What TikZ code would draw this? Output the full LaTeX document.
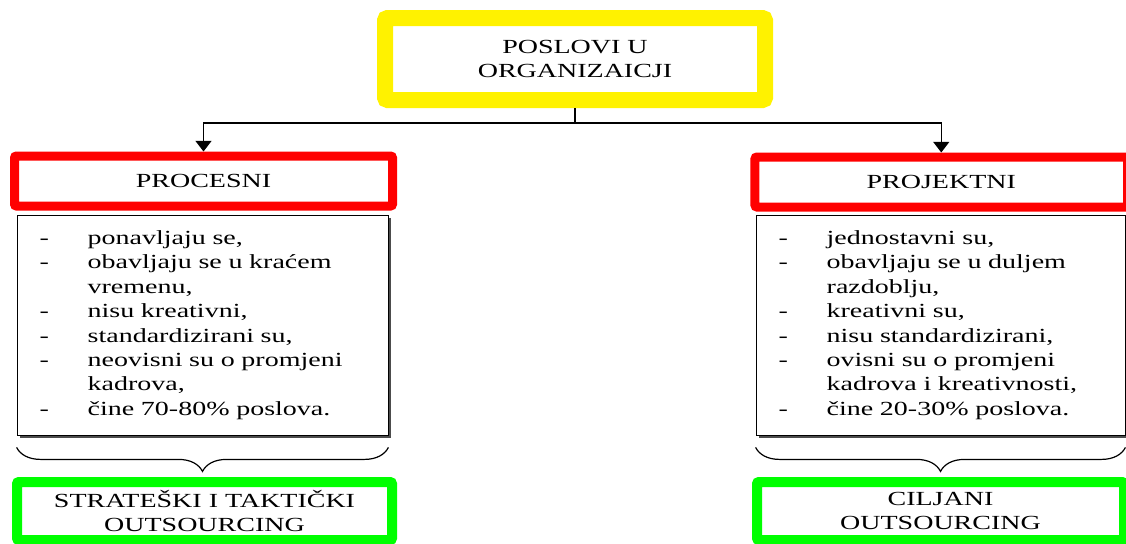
\documentclass[tikz,border=0pt]{standalone}
\usepackage{fontspec}
\setmainfont[FakeStretch=1.4]{Liberation Serif}
\usetikzlibrary{arrows.meta,shadows,decorations.pathreplacing}

\begin{document}
\begin{tikzpicture}[x=0.75pt,y=0.75pt,yscale=-1,xscale=1,
  font=\fontsize{15}{18.3}\selectfont,
  glavni/.style={draw=yellow,line width=12pt,rounded corners=2pt,fill=white,
    minimum width=285pt,minimum height=61.5pt,align=center},
  vrsta/.style={draw=red,line width=6.75pt,rounded corners=1.5pt,fill=white,
    minimum height=37.5pt},
  lista/.style={draw=black,line width=0.6pt,fill=white,align=left,
    inner xsep=17pt,minimum height=165pt,
    drop shadow={shadow xshift=2.5pt,shadow yshift=-2.5pt,fill=black!70,opacity=1}},
  ishod/.style={draw=green,line width=7.5pt,rounded corners=1.5pt,fill=white,
    minimum height=43.5pt,align=center},
  veza/.style={line width=1pt,-{Triangle[length=8pt,width=12pt]}},
  zagrada/.style={line width=0.9pt,decorate,
    decoration={brace,mirror,amplitude=18pt}}]
\useasboundingbox (0,0) rectangle (1126,543);

% Naslov
\node[glavni] (poslovi) at (575,59) {POSLOVI U\\ORGANIZAICJI};

% Vrste poslova
\node[vrsta,minimum width=283.5pt] (procesni) at (203.5,181) {PROCESNI};
\node[vrsta,minimum width=279.4pt] (projektni) at (941.25,182) {PROJEKTNI};

% Obilježja
\node[lista,text width=244.25pt] (procesniLista) at (202.5,325) {%
\begin{tabular}{@{}p{36pt}@{}l@{}}
- & ponavljaju se,\\
- & obavljaju se u kraćem\\
  & vremenu,\\
- & nisu kreativni,\\
- & standardizirani su,\\
- & neovisni su o promjeni\\
  & kadrova,\\
- & čine 70-80\% poslova.
\end{tabular}};
\node[lista,text width=242.75pt] (projektniLista) at (940.5,325) {%
\begin{tabular}{@{}p{36pt}@{}l@{}}
- & jednostavni su,\\
- & obavljaju se u duljem\\
  & razdoblju,\\
- & kreativni su,\\
- & nisu standardizirani,\\
- & ovisni su o promjeni\\
  & kadrova i kreativnosti,\\
- & čine 20-30\% poslova.
\end{tabular}};

% Vrste outsourcinga
\node[ishod,minimum width=281.25pt] (strateski) at (204.5,511) {STRATEŠKI I TAKTIČKI\\OUTSOURCING};
\node[ishod,minimum width=275.25pt] (ciljani) at (940.5,511) {CILJANI\\OUTSOURCING};

% Veze
\draw[line width=1pt] (poslovi.south) -- ++(0,15) coordinate (grana);
\draw[veza] (grana) -| (procesni.north);
\draw[veza] (grana) -| (projektni.north);

% Zagrade
\draw[zagrada] ([yshift=9pt]procesniLista.south west) -- ([yshift=9pt]procesniLista.south east);
\draw[zagrada] ([yshift=9pt]projektniLista.south west) -- ([yshift=9pt]projektniLista.south east);

\end{tikzpicture}
\end{document}
